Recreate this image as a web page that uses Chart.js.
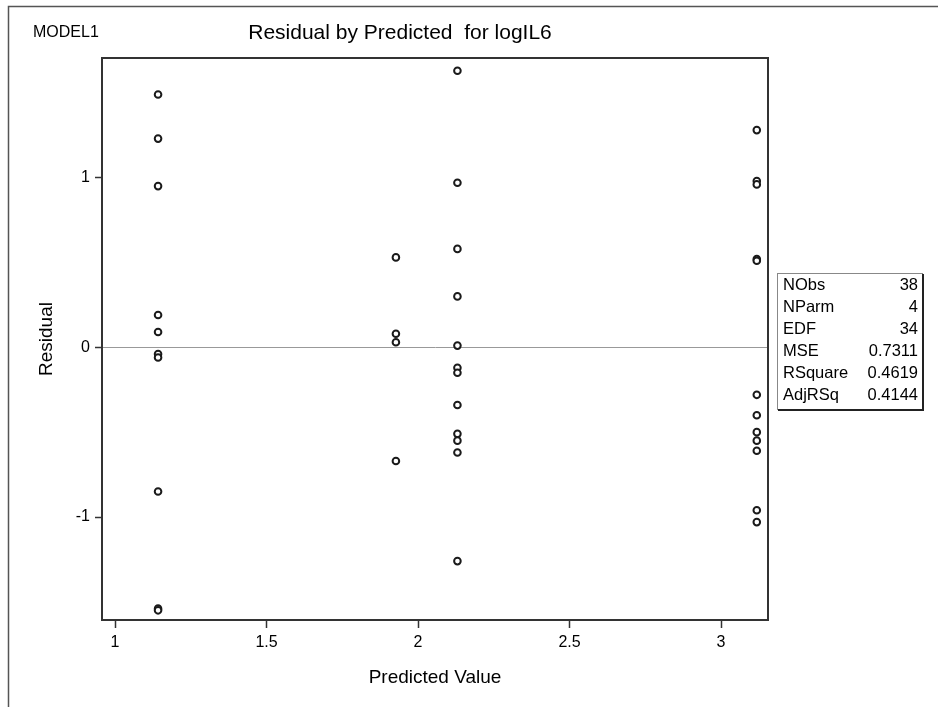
<!DOCTYPE html>
<html>
<head>
<meta charset="utf-8">
<title>Residual by Predicted for logIL6</title>
<script src="https://cdn.jsdelivr.net/npm/chart.js@4.4.0/dist/chart.umd.min.js"></script>
<style>
  body { margin: 0; background: #fff; }
  .box { position: relative; width: 938px; height: 707px; }
</style>
</head>
<body>
<div class="box">
  <canvas id="grafico-residuos"></canvas>
</div>
<script>
// predicted value of each group (4 groups, one-way model)
const predicted = [1.142, 1.927, 2.130, 3.118];

// residuals, one array per group
const residualsG1 = [1.49, 1.23, 0.95, 0.19, 0.09, -0.04, -0.06, -0.85, -1.54, -1.55];
const residualsG2 = [0.53, 0.08, 0.03, -0.67];
const residualsG3 = [1.63, 0.97, 0.58, 0.30, 0.01, -0.12, -0.15, -0.34, -0.51, -0.55, -0.62, -1.26];
const residualsG4 = [1.28, 0.98, 0.96, 0.52, 0.51, -0.28, -0.40, -0.50, -0.55, -0.61, -0.96, -1.03];

const xTicks = [1, 1.5, 2, 2.5, 3];
const yTicks = [-1, 0, 1];

const statLabels = ['NObs', 'NParm', 'EDF', 'MSE', 'RSquare', 'AdjRSq'];
const statValues = ['38', '4', '34', '0.7311', '0.4619', '0.4144'];

const fonte = '"Liberation Sans", Arial, sans-serif';

const grupos = [residualsG1, residualsG2, residualsG3, residualsG4];
const pontos = [];
grupos.forEach(function (lista, i) {
  lista.forEach(function (r) {
    pontos.push({ x: predicted[i], y: r });
  });
});

// frame, outer border, header texts and the fit statistics box
const extras = {
  id: 'extras',
  afterDraw(chart) {
    const ctx = chart.ctx;
    const a = chart.chartArea;
    ctx.save();

    // outer page border (top and left only)
    ctx.strokeStyle = '#555';
    ctx.lineWidth = 1.5;
    ctx.beginPath();
    ctx.moveTo(8.5, 707);
    ctx.lineTo(8.5, 6.5);
    ctx.lineTo(938, 6.5);
    ctx.stroke();

    // plot frame
    ctx.strokeStyle = '#333';
    ctx.lineWidth = 2;
    ctx.strokeRect(a.left, a.top, a.right - a.left, a.bottom - a.top);

    ctx.fillStyle = '#000';
    ctx.textBaseline = 'middle';
    ctx.font = '16px ' + fonte;
    ctx.textAlign = 'left';
    ctx.fillText('MODEL1', 33, 33);

    ctx.font = '21px ' + fonte;
    ctx.textAlign = 'center';
    ctx.fillText('Residual by Predicted  for logIL6', 400, 33);

    // stats box
    const bx = 777, by = 273, bw = 145, bh = 136;
    ctx.fillStyle = '#fff';
    ctx.fillRect(bx, by, bw, bh);
    ctx.strokeStyle = '#888';
    ctx.lineWidth = 1;
    ctx.strokeRect(bx + 0.5, by + 0.5, bw, bh);
    ctx.strokeStyle = '#222';
    ctx.lineWidth = 2;
    ctx.beginPath();
    ctx.moveTo(bx + 1, by + bh + 1);
    ctx.lineTo(bx + bw + 1, by + bh + 1);
    ctx.lineTo(bx + bw + 1, by + 1);
    ctx.stroke();

    ctx.fillStyle = '#000';
    ctx.font = '16.5px ' + fonte;
    statLabels.forEach(function (lab, i) {
      const yy = 285 + i * 22;
      ctx.textAlign = 'left';
      ctx.fillText(lab, 783, yy);
      ctx.textAlign = 'right';
      ctx.fillText(statValues[i], 918, yy);
    });

    ctx.restore();
  }
};

const ctxRes = document.getElementById('grafico-residuos').getContext('2d');

const grafico = new Chart(ctxRes, {
  type: 'scatter',
  data: {
    datasets: [{
      label: 'Residual',
      data: pontos,
      pointStyle: 'circle',
      pointRadius: 3.3,
      pointBorderWidth: 2,
      pointBorderColor: '#1a1a1a',
      pointBackgroundColor: '#fff'
    }]
  },
  options: {
    responsive: true,
    maintainAspectRatio: false,
    animation: false,
    layout: {
      padding: { top: 58, right: 170, left: 0, bottom: 0 }
    },
    plugins: {
      legend: { display: false },
      title: { display: false },
      tooltip: { enabled: false }
    },
    scales: {
      x: {
        type: 'linear',
        min: 0.957,
        max: 3.155,
        afterBuildTicks: function (scale) {
          scale.ticks = xTicks.map(v => ({ value: v }));
        },
        afterFit: function (scale) {
          scale.height = 87;
        },
        grid: {
          drawOnChartArea: false,
          drawTicks: true,
          tickLength: 8,
          tickColor: '#333',
          tickWidth: 1.5
        },
        border: { display: true, color: '#333', width: 2 },
        ticks: {
          color: '#000',
          padding: 5,
          font: { family: fonte, size: 16 },
          callback: v => String(v)
        },
        title: {
          display: true,
          text: 'Predicted Value',
          color: '#000',
          font: { family: fonte, size: 19 },
          padding: { bottom: 18 }
        }
      },
      y: {
        type: 'linear',
        min: -1.607,
        max: 1.705,
        afterBuildTicks: function (scale) {
          scale.ticks = yTicks.map(v => ({ value: v }));
        },
        afterFit: function (scale) {
          scale.width = 102;
        },
        grid: {
          drawOnChartArea: true,
          drawTicks: true,
          tickLength: 7,
          tickColor: '#333',
          tickWidth: 1.5,
          color: c => (c.tick && c.tick.value === 0) ? '#999' : 'rgba(0,0,0,0)'
        },
        border: { display: true, color: '#333', width: 2 },
        ticks: {
          color: '#000',
          padding: 5,
          font: { family: fonte, size: 16 },
          callback: v => String(v)
        },
        title: {
          display: true,
          text: 'Residual',
          color: '#000',
          font: { family: fonte, size: 19 },
          padding: { top: 35 }
        }
      }
    }
  },
  plugins: [extras]
});
</script>
</body>
</html>
